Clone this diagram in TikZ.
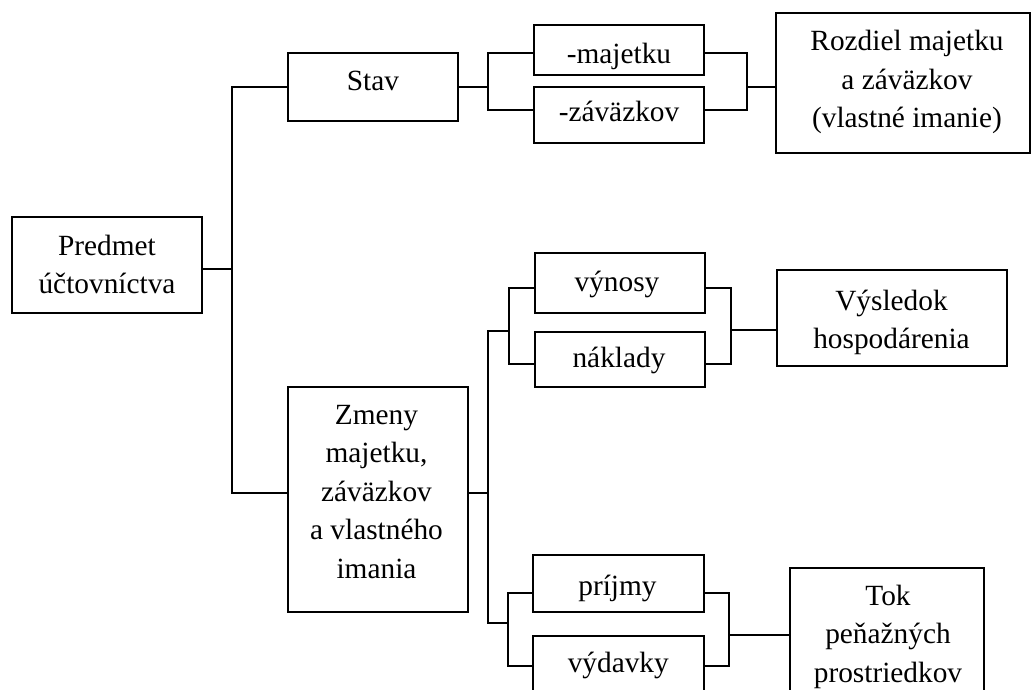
\documentclass[tikz,border=0pt]{standalone}
\usepackage{fontspec}
\setmainfont{Liberation Serif}
\begin{document}
\begin{tikzpicture}[x=0.75pt,y=-0.75pt,
  box/.style 2 args={draw=black, line width=1.5pt, inner sep=0pt, fill=none,
    minimum width=#1*0.75pt, minimum height=#2*0.75pt, anchor=center},
  lbl/.style={inner sep=0pt, anchor=base, font=\fontsize{22}{28.9}\selectfont},
  conn/.style={draw=black, line width=1.5pt, line join=miter}]
\useasboundingbox (0,0) rectangle (1031,689);
\clip (0,0) rectangle (1031,689);

% boxes
\node[box={190}{96}]   (predmet) at (107,265) {};
\node[box={170}{68}]   (stav)    at (373,87) {};
\node[box={170}{50}]   (maj)     at (619,50) {};
\node[box={170}{56}]   (zav)     at (619,115) {};
\node[box={254}{140}]  (rozdiel) at (903,83) {};
\node[box={180}{225}]  (zmeny)   at (378,499.5) {};
\node[box={170}{60}]   (vyn)     at (620,283) {};
\node[box={170}{55}]   (nak)     at (620,359.5) {};
\node[box={230}{96}]   (vysl)    at (892,318) {};
\node[box={171}{57}]   (prij)    at (618.5,583.5) {};
\node[box={171}{57}]   (vyd)     at (618.5,664.5) {};
\node[box={194}{138}]  (tok)     at (887,637) {};

% texts
\node[lbl] (predmetT) at (107,255) {\begin{tabular}[t]{@{}c@{}}Predmet\\účtovníctva\end{tabular}};
\node[lbl] (stavT) at (373,90.7) {Stav};
\node[lbl] (majT) at (619,63) {-majetku};
\node[lbl] (zavT) at (619,121.7) {-záväzkov};
\node[lbl] (rozT) at (907,50.7) {\begin{tabular}[t]{@{}c@{}}Rozdiel majetku\\a záväzkov\\(vlastné imanie)\end{tabular}};
\node[lbl] (zmenyT) at (376.5,424.3) {\begin{tabular}[t]{@{}c@{}}Zmeny\\majetku,\\záväzkov\\a vlastného\\imania\end{tabular}};
\node[lbl] (vynT) at (617,291.7) {výnosy};
\node[lbl] (nakT) at (619,367.3) {náklady};
\node[lbl] (vyslT) at (891.5,310) {\begin{tabular}[t]{@{}c@{}}Výsledok\\hospodárenia\end{tabular}};
\node[lbl] (prijT) at (617.5,595) {príjmy};
\node[lbl] (vydT) at (618.3,672.7) {výdavky};
\node[lbl] (tokT) at (888,605) {\begin{tabular}[t]{@{}c@{}}Tok\\peňažných\\prostriedkov\end{tabular}};

% junction coordinates
\coordinate (c1) at (232,269);
\coordinate (t1top) at (232,87);
\coordinate (t1bot) at (232,493);
\coordinate (bL1) at (488,87);
\coordinate (bL1a) at (488,53);
\coordinate (bL1b) at (488,110);
\coordinate (bR1a) at (747,53);
\coordinate (bR1b) at (747,110);
\coordinate (bR1m) at (747,87);
\coordinate (z2) at (488,493);
\coordinate (t2top) at (488,331);
\coordinate (t2bot) at (488,623);
\coordinate (bL2m) at (509,331);
\coordinate (bL2a) at (509,288);
\coordinate (bL2b) at (509,364);
\coordinate (bR2a) at (731,288);
\coordinate (bR2b) at (731,364);
\coordinate (bR2m) at (731,330);
\coordinate (bL3m) at (508,623);
\coordinate (bL3a) at (508,593);
\coordinate (bL3b) at (508,666);
\coordinate (bR3a) at (729,593);
\coordinate (bR3b) at (729,666);
\coordinate (bR3m) at (729,635);

% connectors
\draw[conn] (predmet.east |- c1) -- (c1);
\draw[conn] (stav.west) -- (t1top) -- (t1bot) -- (zmeny.west |- t1bot);
\draw[conn] (stav.east) -- (bL1);
\draw[conn] (maj.west |- bL1a) -- (bL1a) -- (bL1b) -- (zav.west |- bL1b);
\draw[conn] (maj.east |- bR1a) -- (bR1a) -- (bR1b) -- (zav.east |- bR1b);
\draw[conn] (bR1m) -- (rozdiel.west |- bR1m);
\draw[conn] (zmeny.east |- z2) -- (z2);
\draw[conn] (bL2m) -- (t2top) -- (t2bot) -- (bL3m);
\draw[conn] (vyn.west |- bL2a) -- (bL2a) -- (bL2b) -- (nak.west |- bL2b);
\draw[conn] (vyn.east |- bR2a) -- (bR2a) -- (bR2b) -- (nak.east |- bR2b);
\draw[conn] (bR2m) -- (vysl.west |- bR2m);
\draw[conn] (prij.west |- bL3a) -- (bL3a) -- (bL3b) -- (vyd.west |- bL3b);
\draw[conn] (prij.east |- bR3a) -- (bR3a) -- (bR3b) -- (vyd.east |- bR3b);
\draw[conn] (bR3m) -- (tok.west |- bR3m);
\end{tikzpicture}
\end{document}
